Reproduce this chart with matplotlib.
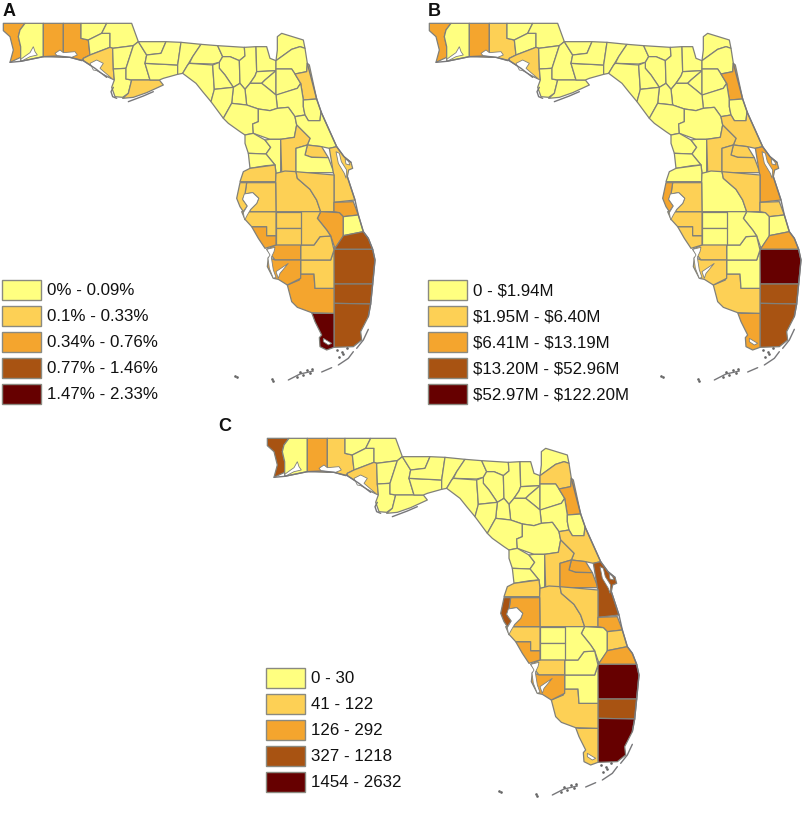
import matplotlib
matplotlib.use("Agg")
import matplotlib.pyplot as plt
from matplotlib.patches import Patch, Polygon

W, H = 803, 821
plt.rcParams['font.family'] = ['Liberation Sans', 'DejaVu Sans']

CLASS_COLORS = ['#FFFF80', '#FDD055', '#F4A52E', '#A85312', '#660000']
EDGE = '#80807a'

WEST_FRAME = (0, 0)
NORTH_FRAME = (570, 0)
SOUTH_FRAME = (630, 510)

WEST = {
    'Escambia': [(10,70),(75,70),(60,90),(55,110),(62,140),(62,172),(30,187),(40,150),(30,110),(10,92)],
    'Santa Rosa': [(75,70),(130,70),(130,170),(62,184),(62,140),(55,110),(60,90)],
    'Okaloosa': [(130,70),(190,70),(190,172),(130,170)],
    'Walton': [(190,70),(243,70),(243,115),(265,120),(270,165),(250,175),(245,182),(210,172),(190,172)],
    'Holmes': [(243,70),(320,70),(305,100),(265,120),(243,115)],
    'Washington': [(265,120),(305,100),(330,100),(330,142),(270,165)],
    'Jackson': [(320,70),(395,70),(415,125),(400,137),(338,145),(330,142),(330,100),(305,100)],
    'Bay': [(250,175),(270,165),(330,142),(338,145),(340,207),(343,240),(322,230),(285,205),(250,182)],
    'Calhoun': [(338,145),(400,137),(378,205),(340,207)],
    'Gulf': [(340,207),(378,205),(378,237),(395,240),(385,280),(368,292),(345,290),(335,262),(343,240)],
    'Liberty': [(400,137),(415,125),(440,165),(435,190),(450,240),(395,240),(378,237),(378,205)],
    'Franklin': [(395,240),(478,240),(490,255),(440,278),(400,292),(368,295),(385,280)],
    'Wakulla': [(435,190),(533,195),(533,223),(490,235),(478,240),(450,240)],
    'Gadsden': [(415,125),(498,125),(483,160),(440,165)],
    'Leon': [(498,125),(543,127),(533,195),(435,190),(440,165),(483,160)],
    'Jefferson': [(543,127),(603,133),(578,170),(563,195),(548,220),(533,223),(533,195)],
    'Madison': [(603,133),(653,137),(668,170),(658,187),(638,192),(568,190),(578,170)],
    'Taylor': [(568,190),(638,195),(643,270),(633,305),(608,275),(588,250),(548,220),(563,195)],
}

NORTH = {
    'Hamilton': [(83,137),(163,142),(165,168),(148,182),(120,170),(98,170)],
    'Suwannee': [(98,170),(120,170),(148,182),(150,250),(130,262),(105,225),(88,205),(88,187)],
    'Lafayette': [(68,195),(88,187),(88,205),(105,225),(130,262),(73,268)],
    'Columbia': [(163,142),(198,140),(200,215),(195,228),(180,250),(165,268),(150,250),(148,182),(165,168)],
    'Baker': [(198,140),(230,140),(240,175),(258,182),(258,212),(200,215)],
    'Nassau': [(258,182),(262,150),(262,110),(275,100),(340,120),(345,145),(330,140),(305,148)],
    'Duval': [(258,182),(305,148),(330,140),(345,145),(352,190),(350,215),(315,222),(305,207),(258,207)],
    'Union': [(200,215),(258,212),(225,240),(215,250),(180,250),(195,228)],
    'Bradford': [(215,250),(225,240),(258,212),(258,285),(240,270)],
    'Clay': [(258,207),(305,207),(315,222),(332,250),(322,265),(262,285),(258,285)],
    'St Johns': [(352,190),(358,195),(380,297),(340,300),(332,250),(315,222),(350,215)],
    'Putnam': [(258,285),(322,265),(332,250),(340,300),(340,320),(345,345),(315,350),(295,322),(262,325)],
    'Alachua': [(165,268),(180,250),(215,250),(240,270),(258,285),(262,325),(240,332),(205,327),(170,315)],
    'Gilchrist': [(130,262),(150,250),(165,268),(170,315),(125,310)],
    'Dixie': [(73,268),(130,262),(125,310),(100,355),(63,305)],
    'Levy': [(125,310),(170,315),(205,327),(205,365),(188,372),(190,400),(165,405),(150,395),(115,370),(100,355)],
    'Marion': [(205,327),(240,332),(262,325),(295,322),(315,350),(320,375),(313,412),(272,418),(240,418),(190,400),(188,372),(205,365)],
    'Citrus': [(165,405),(190,400),(225,420),(242,442),(228,462),(175,460),(165,430)],
    'Sumter': [(240,418),(272,418),(272,520),(258,520),(255,495),(228,462),(242,442),(225,420)],
    'Hernando': [(175,460),(228,462),(255,495),(228,497),(180,505)],
    'Flagler': [(340,300),(380,297),(393,335),(390,362),(355,362),(345,345),(340,320)],
    'Volusia': [(345,345),(355,362),(390,362),(393,335),(440,440),(418,445),(395,440),(352,435),(360,415),(320,375),(315,350)],
    'Lake': [(320,375),(360,415),(352,435),(318,445),(318,518),(275,518),(272,418),(313,412)],
    'Seminole': [(352,435),(395,440),(415,473),(365,472),(345,465)],
    'Orange': [(318,445),(352,435),(345,465),(365,472),(415,473),(432,518),(318,518)],
}

SOUTH = {
    'Pasco': [(120,-5),(195,-15),(198,10),(197,35),(90,35),(100,5)],
    'Brevard': [(358,-65),(380,-70),(402,-40),(423,-23),(428,-5),(416,0),(412,20),(435,90),(372,97),(372,15),(370,8)],
    'Polk': [(197,35),(198,10),(225,3),(258,5),(262,25),(285,45),(300,58),(320,90),(332,125),(198,125)],
    'Osceola': [(258,5),(372,15),(372,125),(332,125),(320,90),(300,58),(285,45),(262,25)],
    'Indian River': [(372,97),(430,95),(445,135),(400,140),(388,128),(372,125)],
    'Okeechobee': [(332,125),(388,128),(400,140),(400,200),(375,235),(362,198),(350,180),(322,145)],
    'St Lucie': [(400,140),(445,135),(460,185),(400,197)],
    'Martin': [(400,197),(460,185),(475,205),(488,238),(370,238),(375,235)],
    'Palm Beach': [(370,238),(488,238),(495,270),(488,342),(372,342)],
    'Broward': [(372,342),(488,342),(482,402),(372,400)],
    'Miami-Dade': [(372,400),(482,402),(475,440),(452,485),(455,510),(430,530),(372,532)],
    'Monroe': [(315,430),(372,430),(372,532),(350,540),(330,530),(328,503),(335,495),(315,455),(305,428)],
    'Collier': [(232,345),(268,330),(272,312),(312,312),(315,355),(372,355),(372,430),(305,428),(262,412),(245,395)],
    'Hendry': [(272,270),(362,270),(372,240),(372,355),(315,355),(312,312),(272,312)],
    'Glades': [(272,225),(312,225),(330,200),(362,198),(372,240),(362,270),(272,270)],
    'Highlands': [(272,125),(332,125),(322,145),(350,180),(362,198),(330,200),(312,225),(272,225)],
    'Hardee': [(198,125),(272,125),(272,175),(198,175)],
    'Desoto': [(198,175),(272,175),(272,225),(198,225)],
    'Charlotte': [(198,225),(272,225),(272,270),(195,270),(170,238)],
    'Lee': [(195,270),(272,270),(272,325),(232,345),(205,328),(190,325),(172,290),(175,262)],
    'Sarasota': [(125,170),(170,170),(170,197),(198,197),(198,225),(165,235),(145,205)],
    'Manatee': [(95,125),(198,125),(198,197),(170,197),(170,170),(125,170),(105,148)],
    'Hillsborough': [(110,38),(197,38),(198,125),(118,125),(122,118),(140,100),(146,85),(128,68),(105,72)],
    'Pinellas': [(90,38),(110,38),(105,72),(98,88),(112,108),(100,125),(90,110),(80,85)],
}

# bays and lagoons, painted white over the counties
WATER_WEST = [
    [(62,178),(80,165),(90,158),(100,140),(105,155),(112,165),(90,170),(65,183)],
    [(165,160),(180,150),(190,158),(225,155),(232,165),(215,172),(190,170),(172,168)],
    [(270,190),(290,180),(310,190),(300,205),(335,235),(320,228),(290,212),(280,210)],
]
WATER_SOUTH = [
    [(103,72),(128,68),(146,85),(140,100),(122,118),(112,135),(104,150),(100,128),(112,108),(98,88)],
    [(170,238),(195,232),(192,245),(184,262),(190,300),(198,322),(190,325),(178,295),(174,265),(180,255)],
    [(198,305),(235,280),(225,292),(210,310),(205,325)],
    [(378,-55),(388,-50),(394,-25),(410,0),(408,25),(403,10),(385,-20)],
    [(405,-35),(416,-25),(420,-15),(408,-18)],
    [(340,505),(365,520),(355,525),(340,515)],
]
LINES_WEST = [
    [(340,262),(333,275),(338,290),(350,295)],
    [(385,305),(430,288),(460,275)],
    [(30,187),(62,184),(130,170),(175,168),(210,172),(250,182),(285,205),(320,232)],
]
LINES_SOUTH = [
    [(292,-320),(320,-213),(335,-170),(380,-70),(402,-40),(423,-23)],
    [(412,20),(435,90),(445,135),(460,185),(475,205),(488,238),(495,270),(488,342),(482,402),(475,440)],
    [(475,478),(460,510),(440,535)],
    [(430,545),(415,565),(385,585)],
    [(365,593),(335,606)],
    [(310,603),(270,612),(235,630)],
]
ISLETS_X = [380, 395, 410, 400, 388, 75, 80, 185, 190, 270, 290, 300, 280, 305, 260]
ISLETS_Y = [540, 545, 535, 552, 560, 618, 620, 628, 632, 605, 600, 610, 615, 597, 622]

# class per county, anything not listed is class 0
CLASSES_A = {
    'Escambia': 2, 'Okaloosa': 2, 'Walton': 2, 'Bay': 1, 'Franklin': 1, 'St Johns': 1,
    'Lake': 1, 'Seminole': 1, 'Brevard': 1, 'Pasco': 1, 'Polk': 1, 'Hillsborough': 1,
    'Pinellas': 1, 'Osceola': 1, 'Manatee': 1, 'Hardee': 1, 'Desoto': 1, 'Highlands': 1,
    'Glades': 1, 'Hendry': 1, 'Indian River': 2, 'Okeechobee': 2, 'Martin': 3,
    'Palm Beach': 3, 'Broward': 3, 'Miami-Dade': 3, 'Monroe': 4, 'Collier': 2, 'Lee': 2,
    'Charlotte': 2, 'Sarasota': 2,
}
CLASSES_B = {
    'Escambia': 2, 'Okaloosa': 2, 'Walton': 1, 'Bay': 1, 'St Johns': 2, 'Volusia': 1,
    'Lake': 1, 'Orange': 1, 'Seminole': 1, 'Brevard': 2, 'Osceola': 1, 'Pinellas': 2,
    'Hillsborough': 1, 'Manatee': 1, 'Sarasota': 1, 'Charlotte': 1, 'Lee': 1, 'Collier': 1,
    'Monroe': 2, 'Miami-Dade': 3, 'Broward': 3, 'Palm Beach': 4, 'Martin': 2, 'Indian River': 1,
}
CLASSES_C = {
    'Escambia': 3, 'Okaloosa': 2, 'Walton': 1, 'Bay': 1, 'Duval': 1, 'St Johns': 2, 'Volusia': 1,
    'Lake': 1, 'Seminole': 2, 'Orange': 2, 'Brevard': 3, 'Osceola': 1, 'Polk': 1, 'Pasco': 1,
    'Pinellas': 3, 'Hillsborough': 2, 'Manatee': 1, 'Sarasota': 2, 'Charlotte': 1, 'Lee': 2,
    'Collier': 1, 'Monroe': 1, 'Indian River': 2, 'St Lucie': 1, 'Martin': 2, 'Palm Beach': 4,
    'Broward': 3, 'Miami-Dade': 4,
}

LABELS_A = ['0% - 0.09%', '0.1% - 0.33%', '0.34% - 0.76%', '0.77% - 1.46%', '1.47% - 2.33%']
LABELS_B = [r'0 - \$1.94M', r'\$1.95M - \$6.40M', r'\$6.41M - \$13.19M', r'\$13.20M - \$52.96M', r'\$52.97M - \$122.20M']
LABELS_C = ['0 - 30', '41 - 122', '126 - 292', '327 - 1218', '1454 - 2632']


def shift(points, frame):
    return [(x + frame[0], y + frame[1]) for x, y in points]


def draw_panel(fig, left, top, classes, labels, legend_xy, letter, letter_xy):
    # the map axes uses trace units (3 per figure pixel), y going down
    ax = fig.add_axes([left / W, 1 - (top + 400) / H, 400 / W, 400 / H])
    ax.set_xlim(0, 1200)
    ax.set_ylim(1200, 0)
    ax.axis('off')
    ax.patch.set_alpha(0)

    for outlines, frame in ((WEST, WEST_FRAME), (NORTH, NORTH_FRAME), (SOUTH, SOUTH_FRAME)):
        for name, pts in outlines.items():
            ax.add_patch(Polygon(shift(pts, frame), closed=True, facecolor=CLASS_COLORS[classes.get(name, 0)],
                                 edgecolor=EDGE, linewidth=0.9, joinstyle='round'))

    for group, frame in ((WATER_WEST, WEST_FRAME), (WATER_SOUTH, SOUTH_FRAME)):
        for pts in group:
            ax.add_patch(Polygon(shift(pts, frame), closed=True, facecolor='white', edgecolor=EDGE, linewidth=0.6))
    for group, frame in ((LINES_WEST, WEST_FRAME), (LINES_SOUTH, SOUTH_FRAME)):
        for pts in group:
            xs, ys = zip(*shift(pts, frame))
            ax.plot(xs, ys, color='#77777a', lw=1.0, solid_capstyle='round')
    ax.plot([x + SOUTH_FRAME[0] for x in ISLETS_X], [y + SOUTH_FRAME[1] for y in ISLETS_Y],
            ls='none', marker='o', ms=0.9, color='#666666')

    handles = [Patch(facecolor=c, edgecolor='#8a8a80', linewidth=1.0) for c in CLASS_COLORS]
    fig.legend(handles, labels, loc='upper left', frameon=False, fontsize=12.2,
               bbox_to_anchor=(legend_xy[0] / W, 1 - legend_xy[1] / H),
               borderpad=0, borderaxespad=0, handlelength=2.3, handleheight=1.4,
               handletextpad=0.38, labelspacing=0.38, labelcolor='#111111')
    fig.text(letter_xy[0] / W, 1 - letter_xy[1] / H, letter, fontsize=13, fontweight='bold',
             ha='left', va='baseline', color='#111111')


fig = plt.figure(figsize=(W / 100, H / 100), dpi=100, facecolor='white')
draw_panel(fig, 0, 0, CLASSES_A, LABELS_A, (2, 280), 'A', (3, 15.5))
draw_panel(fig, 426, 0, CLASSES_B, LABELS_B, (428, 280), 'B', (428, 15.5))
draw_panel(fig, 264, 415, CLASSES_C, LABELS_C, (266, 668), 'C', (218, 431))
fig.savefig('out.png', dpi=100)
